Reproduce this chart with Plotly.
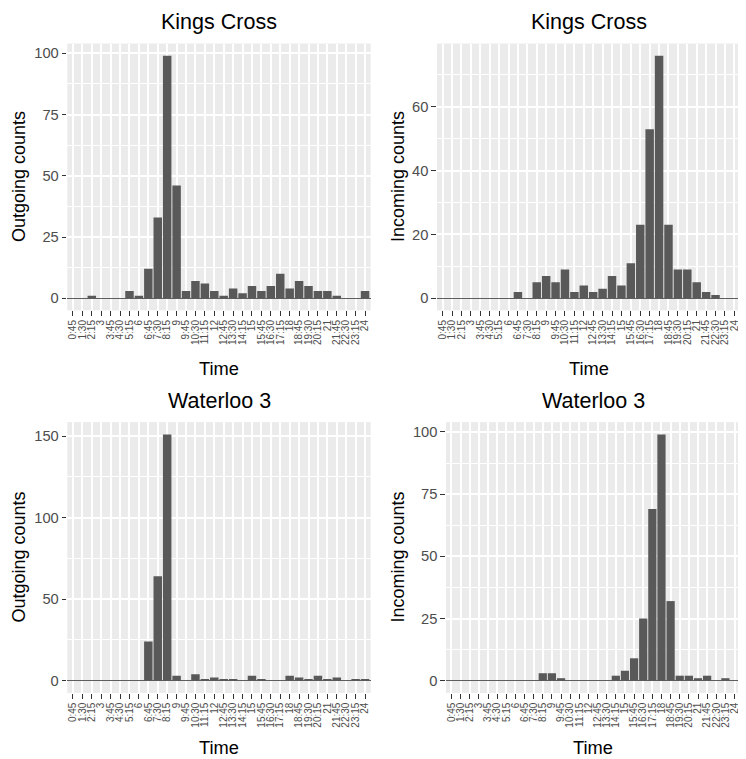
import plotly.graph_objects as go

time_labels = ["0:45", "1:30", "2:15", "3", "3:45", "4:30", "5:15", "6",
               "6:45", "7:30", "8:15", "9", "9:45", "10:30", "11:15", "12",
               "12:45", "13:30", "14:15", "15", "15:45", "16:30", "17:15", "18",
               "18:45", "19:30", "20:15", "21", "21:45", "22:30", "23:15", "24"]

kings_out = [0, 0, 1, 0, 0, 0, 3, 1, 12, 33, 99, 46, 3, 7, 6, 3,
             1, 4, 2, 5, 3, 5, 10, 4, 7, 5, 3, 3, 1, 0, 0, 3]
kings_in = [0, 0, 0, 0, 0, 0, 0, 0, 2, 0, 5, 7, 5, 9, 2, 4,
            2, 3, 7, 4, 11, 23, 53, 76, 23, 9, 9, 5, 2, 1, 0, 0]
waterloo_out = [0, 0, 0, 0, 0, 0, 0, 0, 24, 64, 151, 3, 0, 4, 1, 2,
                1, 1, 0, 3, 1, 0, 0, 3, 2, 1, 3, 1, 2, 0, 1, 1]
waterloo_in = [0, 0, 0, 0, 0, 0, 0, 0, 0, 0, 3, 3, 1, 0, 0, 0,
               0, 0, 2, 4, 9, 25, 69, 99, 32, 2, 2, 1, 2, 0, 1, 0]

titles = ["Kings Cross", "Kings Cross", "Waterloo 3", "Waterloo 3"]
ytitles = ["Outgoing counts", "Incoming counts", "Outgoing counts", "Incoming counts"]
series = [kings_out, kings_in, waterloo_out, waterloo_in]
dticks = [25, 20, 50, 25]

# the html page body has an 8px margin: the figure is shrunk and shifted by it
OFF = 8
W, H = 746 - OFF, 759 - OFF
FONT = "Liberation Sans, Arial, Helvetica, sans-serif"
# panel pixel boxes in window coordinates: (left, right, top, bottom)
boxes = [(67.3, 370.7, 43.6, 310.4),
         (437.0, 740.0, 43.6, 310.4),
         (67.3, 370.7, 422.1, 693.0),
         (446.0, 740.0, 422.1, 693.0)]
ytitle_x = [19, 398, 19, 398]
title_y = [22, 22, 401, 401]
time_y = [368, 368, 747, 747]


def px(v):
    return (v - OFF) / W


def py(v):
    return 1 - (v - OFF) / H


fig = go.Figure()
annotations = []
for i, (vals, box) in enumerate(zip(series, boxes)):
    n = i + 1
    xa = "x" if n == 1 else f"x{n}"
    ya = "y" if n == 1 else f"y{n}"
    fig.add_trace(go.Bar(x=time_labels, y=vals, xaxis=xa, yaxis=ya,
                         marker=dict(color="#595959", line=dict(width=0)),
                         width=0.9, showlegend=False))
    l, r, t, b = box
    ymax = max(vals)
    xkey = "xaxis" if n == 1 else f"xaxis{n}"
    ykey = "yaxis" if n == 1 else f"yaxis{n}"
    fig.layout[xkey] = dict(
        domain=[px(l), px(r)], anchor=ya, type="category",
        categoryorder="array", categoryarray=time_labels,
        tickmode="array", tickvals=time_labels, ticktext=time_labels,
        range=[-0.6, len(time_labels) - 1 + 0.6],
        tickangle=-90, tickfont=dict(size=10, color="#4D4D4D", family=FONT),
        ticks="outside", ticklen=4.6, tickwidth=1.1, tickcolor="#333333",
        showgrid=True, gridcolor="white", gridwidth=1.7,
        showline=False, zeroline=False, fixedrange=True, automargin=False)
    fig.layout[ykey] = dict(
        domain=[py(b), py(t)], anchor=xa,
        range=[-0.05 * ymax, 1.05 * ymax],
        tickmode="linear", tick0=0, dtick=dticks[i],
        tickfont=dict(size=14.7, color="#4D4D4D", family=FONT),
        ticks="outside", ticklen=4.6, tickwidth=1.1, tickcolor="#333333",
        showgrid=True, gridcolor="white", gridwidth=1.7,
        minor=dict(dtick=dticks[i] / 2, tick0=0, showgrid=True,
                   gridcolor="white", gridwidth=0.85, ticks=""),
        zeroline=True, zerolinecolor="#5E5E5E", zerolinewidth=0.8,
        showline=False, fixedrange=True, automargin=False)
    cx = (l + r) / 2
    annotations.append(dict(text=titles[i], x=px(cx), y=py(title_y[i]),
                            xref="paper", yref="paper", showarrow=False,
                            xanchor="center", yanchor="middle",
                            font=dict(size=21.5, color="black", family=FONT)))
    annotations.append(dict(text="Time", x=px(cx), y=py(time_y[i]),
                            xref="paper", yref="paper", showarrow=False,
                            xanchor="center", yanchor="middle",
                            font=dict(size=18.3, color="black", family=FONT)))
    annotations.append(dict(text=ytitles[i], x=px(ytitle_x[i]),
                            y=py((t + b) / 2), textangle=-90,
                            xref="paper", yref="paper", showarrow=False,
                            xanchor="center", yanchor="middle",
                            font=dict(size=18, color="black", family=FONT)))

fig.update_layout(width=W, height=H, margin=dict(l=0, r=0, t=0, b=0),
                  paper_bgcolor="white", plot_bgcolor="#EBEBEB",
                  bargap=0.1, annotations=annotations,
                  font=dict(family=FONT))
fig.write_html("out.html")
